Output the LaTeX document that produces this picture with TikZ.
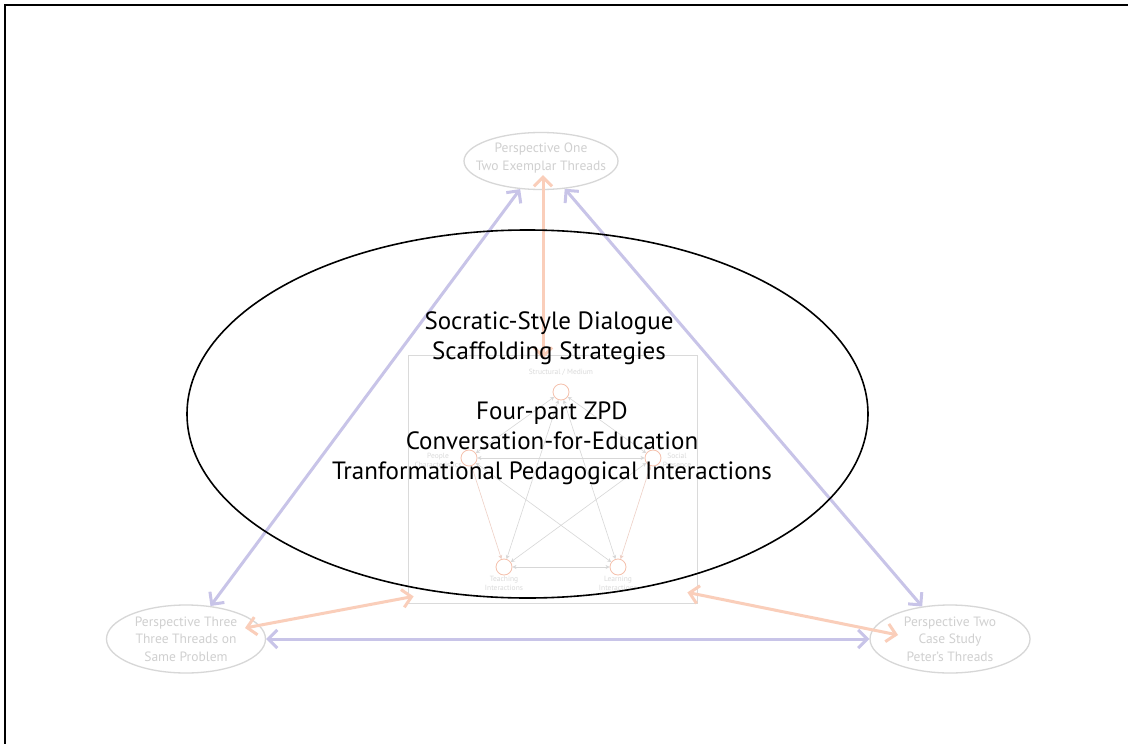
\documentclass[tikz,border=0pt]{standalone}
\usepackage{fontspec}
\setmainfont{PT Sans}
\usetikzlibrary{arrows.meta,shapes.geometric}
\definecolor{lav}{RGB}{200,196,232}
\definecolor{peach}{RGB}{250,206,186}
\definecolor{pgrey}{RGB}{215,215,215}
\definecolor{tgrey}{RGB}{208,208,208}
\definecolor{lgrey}{RGB}{218,218,218}
\definecolor{circc}{RGB}{245,192,172}
\definecolor{pinkl}{RGB}{238,208,198}
\tikzset{
  persp/.style={ellipse, draw=pgrey, line width=1.3pt, inner sep=0pt},
  persptext/.style={text=tgrey, align=center, inner sep=0pt, font=\fontsize{13.5}{17.5}\selectfont},
  lavarrow/.style={draw=lav, line width=3pt,
    arrows={Straight Barb[length=9pt,width=18pt]-Straight Barb[length=9pt,width=18pt]}},
  peacharrow/.style={draw=peach, line width=3pt,
    arrows={Straight Barb[length=9pt,width=18pt]-Straight Barb[length=9pt,width=18pt]}},
  zcirc/.style={circle, draw=circc, line width=0.8pt, minimum size=16pt, inner sep=0pt},
  zlab/.style={text=lgrey, align=center, inner sep=0pt, font=\fontsize{7.5}{9}\selectfont},
  zlink/.style={draw=pgrey, line width=0.6pt, arrows={Stealth[length=4pt,width=4pt]-Stealth[length=4pt,width=4pt]}},
  zlinkp/.style={zlink, draw=pinkl},
  bigtext/.style={align=center, inner sep=0pt, font=\fontsize{25}{30}\selectfont}
}
\begin{document}
\begin{tikzpicture}[x=1pt,y=-1pt]
\useasboundingbox (0,0) rectangle (1128,744);
\fill[white] (0,0) rectangle (1128,744);
\draw[line width=2pt] (5,744) -- (5,5) -- (1128,5);

% inner diagram
\node[draw=lgrey, line width=0.8pt, minimum width=289pt, minimum height=248pt, inner sep=0pt] (inner) at (552.5,479) {};
\node[zcirc] (cs) at (561,392) {};
\node[zcirc] (cp) at (469,458) {};
\node[zcirc] (cso) at (653,458) {};
\node[zcirc] (ct) at (504,567) {};
\node[zcirc] (cl) at (618,567) {};
\node[zlab] (ls) at (561,372) {Structural / Medium};
\node[zlab] (lp) at (438,460) {People\\Characteristics};
\node[zlab] (lso) at (677,460) {Social\\Presence};
\node[zlab] (lt) at (504,583) {Teaching\\Interactions};
\node[zlab] (ll) at (618,583) {Learning\\Interactions};
\draw[zlink] (cs) -- (cp);
\draw[zlink] (cs) -- (cso);
\draw[zlink] (cs) -- (ct);
\draw[zlink] (cs) -- (cl);
\draw[zlink] (cp) -- (cso);
\draw[zlinkp] (cp) -- (ct);
\draw[zlink] (cp) -- (cl);
\draw[zlink] (cso) -- (ct);
\draw[zlinkp] (cso) -- (cl);
\draw[zlink] (ct) -- (cl);

% perspectives
\node[persp, minimum width=154pt, minimum height=57pt] (p1) at (541,161) {};
\node[persptext] (p1t) at (541,158) {Perspective One\\Two Exemplar Threads};
\node[persp, minimum width=159pt, minimum height=68pt] (p3) at (186,639) {};
\node[persptext] (p3t) at (186,639) {Perspective Three\\Three Threads on\\Same Problem};
\node[persp, minimum width=160pt, minimum height=68pt] (p2) at (950,639) {};
\node[persptext] (p2t) at (950,639) {Perspective Two\\Case Study\\Peter's Threads};

% arrows
\draw[lavarrow] (p3) -- (p1);
\draw[lavarrow] (p1) -- (p2);
\draw[lavarrow] (p3) -- (p2);
\draw[peacharrow] ([xshift=2pt,yshift=15pt]p1.south) -- ([xshift=2pt,yshift=-4pt]p1.south |- inner.north);
\draw[peacharrow] ([xshift=59pt,yshift=11pt]p3.center) -- ([xshift=6pt,yshift=7pt]inner.south west);
\draw[peacharrow] ([xshift=-10pt,yshift=11pt]inner.south east) -- ([xshift=-52pt,yshift=4pt]p2.center);

% big ellipse
\node[ellipse, draw=black, line width=1.6pt, minimum width=681pt, minimum height=368pt, inner sep=0pt] (big) at (527.5,414) {};
\node[bigtext] (t1) at (549,338) {Socratic-Style Dialogue\\Scaffolding Strategies};
\node[bigtext] (t2) at (552,443) {Four-part ZPD\\Conversation-for-Education\\Tranformational Pedagogical Interactions};
\end{tikzpicture}
\end{document}
